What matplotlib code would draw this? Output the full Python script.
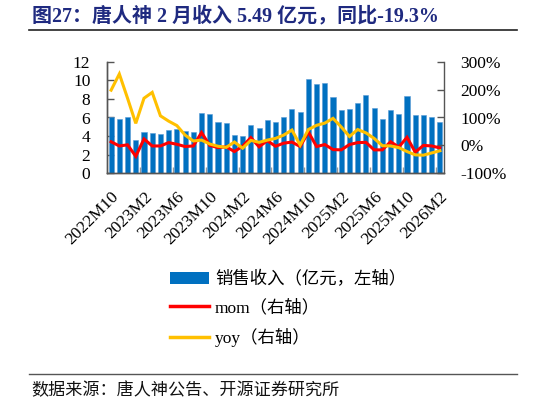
import matplotlib
matplotlib.use("Agg")
import matplotlib.pyplot as plt
from matplotlib.lines import Line2D
from matplotlib.patches import Patch
from matplotlib.ticker import FuncFormatter, FixedLocator
import numpy as np

plt.rcParams['font.family'] = ['Liberation Serif', 'Noto Sans CJK SC', 'DejaVu Sans']

months = ["2022M10", "2022M11", "2022M12",
          "2023M1", "2023M2", "2023M3", "2023M4", "2023M5", "2023M6", "2023M7", "2023M8", "2023M9", "2023M10", "2023M11", "2023M12",
          "2024M1", "2024M2", "2024M3", "2024M4", "2024M5", "2024M6", "2024M7", "2024M8", "2024M9", "2024M10", "2024M11", "2024M12",
          "2025M1", "2025M2", "2025M3", "2025M4", "2025M5", "2025M6", "2025M7", "2025M8", "2025M9", "2025M10", "2025M11", "2025M12",
          "2026M1", "2026M2"]

sales = [6.0, 5.85, 6.0, 3.58, 4.44, 4.30, 4.19, 4.62, 4.76, 4.55, 4.44, 6.52, 6.34,
         5.52, 5.37, 4.12, 3.97, 5.16, 4.84, 5.77, 5.52, 6.05, 6.91, 6.63, 10.1, 9.57, 9.74,
         8.17, 6.80, 6.88, 7.60, 8.42, 6.99, 5.87, 6.80, 6.38, 8.28, 6.23, 6.23, 6.05, 5.49]

mom = [13, -2, 2, -39, 23, -2, -2, 10, 4, -4, -2, 46, 0,
       -8, -5, -22, -3, 28, -5, 17, -3, 8, 12, -4, 48, -4, 3,
       -15, -16, 3, 10, 11, -16, -16, 13, -6, 29, -24, 0, -2, -9]

yoy = [198, 256, 169, 79, 169, 190, 106, 87, 71, 37, 16, 19, 5,
       -3, -7, 12, -10, 18, 11, 19, 25, 37, 55, 1, 57, 72, 80,
       97, 66, 32, 57, 45, 25, -1, -2, -8, -22, -34, -35, -27, -19.3]

label_sales = "销售收入（亿元，左轴）"
label_mom = "mom（右轴）"
label_yoy = "yoy（右轴）"
title = "图27：唐人神 2 月收入 5.49 亿元，同比-19.3%"
source = "数据来源：唐人神公告、开源证券研究所"

W, H = 546, 405
fig = plt.figure(figsize=(W / 100, H / 100), dpi=100)

ax = fig.add_axes([107 / W, 1 - 173.3 / H, 337 / W, 111.6 / H])
x = np.arange(len(sales))
ax.bar(x, sales, width=0.62, color='#0070C0', edgecolor='#5B9BD5', linewidth=0.4, zorder=2)
ax.set_xlim(-0.5, len(sales) - 0.5)
ax.set_ylim(0, 12)
ax.set_yticks(range(0, 13, 2))

ax2 = ax.twinx()
ax2.plot(x, mom, color='#FF0000', lw=2.2, zorder=3, solid_joinstyle='miter')
ax2.plot(x, yoy, color='#FFC000', lw=2.2, zorder=4, solid_joinstyle='miter')
ax2.set_ylim(-100, 300)
ax2.set_yticks(range(-100, 301, 100))
ax2.yaxis.set_major_formatter(FuncFormatter(lambda v, p: f"{int(v)}%"))
ax2.set_xlim(-0.5, len(sales) - 0.5)

label_pos = list(range(0, len(sales), 4))
ax.xaxis.set_major_locator(FixedLocator(label_pos))
ax.set_xticklabels([months[i] for i in label_pos], rotation=45, ha='right',
                   rotation_mode='anchor', fontsize=12.5)
ax.xaxis.set_minor_locator(FixedLocator([i + 3.5 for i in range(0, len(sales) - 4, 4)]))
ax.tick_params(axis='x', which='major', length=0, pad=11)
ax.tick_params(axis='x', which='minor', length=4, direction='in', color='#999999', width=1)
ax.tick_params(axis='y', direction='in', length=5, width=1, color='#555555', labelsize=12.5, pad=12)
ax2.tick_params(axis='y', direction='in', length=5, width=1, color='#555555', labelsize=12.5, pad=12)

for a in (ax, ax2):
    a.spines['top'].set_visible(False)
    for s in ('left', 'right', 'bottom'):
        a.spines[s].set_color('#555555')
        a.spines[s].set_linewidth(1)
ax.spines['right'].set_visible(False)

handles = [Patch(facecolor='#0070C0', edgecolor='none'),
           Line2D([], [], color='#FF0000', lw=2.5),
           Line2D([], [], color='#FFC000', lw=2.5)]
fig.legend(handles, [label_sales, label_mom, label_yoy], loc='upper left',
           bbox_to_anchor=(170 / W, 1 - 271 / H), frameon=False, fontsize=12.5,
           handlelength=2.25, handleheight=0.6, handletextpad=0.35, labelspacing=0.66,
           borderpad=0, borderaxespad=0)

fig.text(32 / W, 1 - 16 / H, title, fontsize=14.4, fontweight='bold', color='#1F2A80',
         va='center', ha='left')
fig.add_artist(Line2D([29 / W, 517 / W], [1 - 30 / H, 1 - 30 / H], color='#222222', lw=1.2))
fig.add_artist(Line2D([29 / W, 517 / W], [1 - 374.3 / H, 1 - 374.3 / H], color='#555555', lw=1))
fig.text(31 / W, 1 - 391 / H, source, fontsize=12.3, color='#111111', va='center', ha='left')

fig.savefig("out.png", dpi=100)
